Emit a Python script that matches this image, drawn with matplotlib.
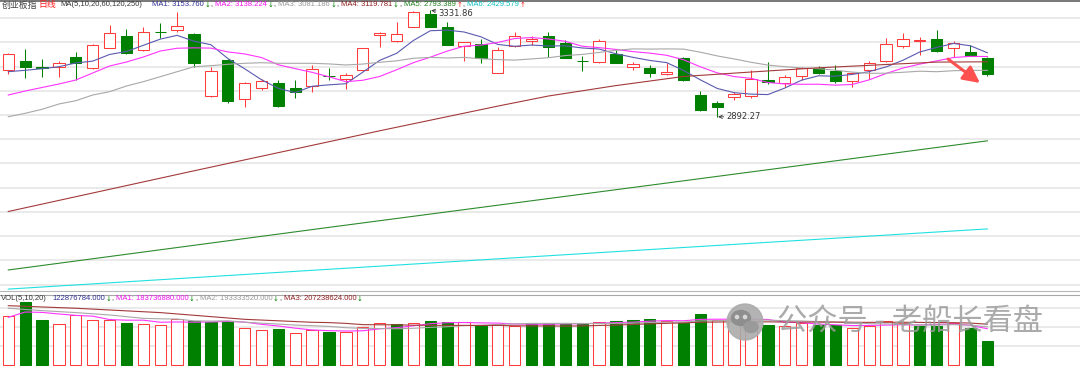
import matplotlib
matplotlib.use('Agg')
import matplotlib.pyplot as plt
import numpy as np
import pandas as pd
from matplotlib.patches import Rectangle, Circle, Ellipse

# ---------------- data ----------------
opens = [3085.9, 3123.1, 3099.5, 3099.5, 3140.8, 3092.9, 3175.5, 3226.3, 3168.5, 3244.9,
         3251.1, 3234.6, 2978.5, 3127.2, 2964.9, 3010.3, 3031.0, 3010.3, 3019.8, 3061.9,
         3050.0, 3085.9, 3230.4, 3206.9, 3264.7, 3317.2, 3262.3, 3186.3, 3193.3, 3074.7,
         3186.3, 3204.4, 3226.3, 3198.6, 3125.1, 3120.2, 3150.7, 3099.5, 3092.9, 3068.1,
         3134.2, 2982.6, 2948.4, 2973.2, 2979.8, 3044.6, 3031.0, 3061.1, 3095.4, 3081.8,
         3040.5, 3085.9, 3123.1, 3186.3, 3204.4, 3212.7, 3175.5, 3161.5, 3134.2]
highs = [3157.4, 3171.4, 3130.1, 3123.1, 3161.5, 3193.3, 3271.7, 3254.0, 3262.3, 3281.2,
         3326.7, 3239.9, 3099.5, 3130.1, 3035.1, 3048.7, 3044.6, 3044.6, 3106.5, 3092.9,
         3072.3, 3178.8, 3244.9, 3285.4, 3328.7, 3331.86, 3285.4, 3202.8, 3212.7, 3182.1,
         3241.6, 3226.3, 3241.6, 3209.8, 3143.7, 3213.9, 3168.5, 3120.2, 3106.5, 3116.0,
         3138.4, 3000.4, 2959.1, 2996.3, 3085.9, 3117.7, 3065.2, 3099.5, 3102.4, 3106.5,
         3078.9, 3123.1, 3219.3, 3239.9, 3223.4, 3251.1, 3206.9, 3189.1, 3140.8]
lows = [3069.4, 3051.6, 3055.8, 3055.8, 3044.6, 3088.8, 3175.5, 3152.0, 3164.4, 3216.8,
        3244.1, 3099.5, 2974.4, 2948.4, 2931.9, 3003.3, 2935.1, 2971.5, 2996.3, 3044.6,
        3006.2, 3083.0, 3182.1, 3203.6, 3262.3, 3262.3, 3187.1, 3123.1, 3113.6, 3072.3,
        3182.1, 3189.1, 3140.8, 3134.2, 3083.0, 3113.6, 3113.6, 3085.9, 3055.8, 3065.2,
        3041.7, 2918.6, 2892.27, 2962.0, 2969.0, 3028.1, 3014.5, 3044.6, 3069.4, 3033.4,
        3016.9, 3048.7, 3121.0, 3175.5, 3147.8, 3161.5, 3138.4, 3141.7, 3061.1]
closes = [3152.0, 3099.5, 3094.2, 3113.6, 3116.0, 3189.1, 3237.5, 3154.9, 3241.6, 3243.7,
          3267.6, 3116.0, 3083.0, 2957.9, 3031.0, 3040.5, 2937.2, 2996.3, 3088.8, 3060.3,
          3064.0, 3175.5, 3239.9, 3233.3, 3326.7, 3264.7, 3189.1, 3200.3, 3134.2, 3168.5,
          3227.6, 3213.9, 3182.1, 3136.7, 3123.9, 3205.7, 3116.0, 3109.4, 3072.3, 3078.9,
          3044.6, 2920.7, 2931.9, 2985.5, 3048.7, 3035.1, 3055.8, 3095.4, 3074.7, 3040.5,
          3072.3, 3113.6, 3192.0, 3212.7, 3211.5, 3165.6, 3196.2, 3143.7, 3068.1]
vol_million = [247.2, 316.2, 229.6, 207.4, 254.0, 228.1, 229.6, 214.1, 207.4, 202.1,
               234.8, 224.5, 219.2, 221.3, 185.0, 177.8, 183.0, 164.3, 176.2, 167.4,
               167.4, 190.2, 212.5, 207.4, 212.5, 221.3, 216.2, 216.2, 198.5, 207.4,
               198.5, 210.9, 214.1, 208.9, 208.9, 216.2, 222.9, 226.5, 234.8, 222.9,
               210.9, 259.2, 229.6, 236.9, 221.3, 203.7, 195.4, 212.5, 202.1, 202.1,
               185.0, 198.5, 221.3, 210.9, 195.4, 198.5, 212.5, 186.7, 122.876784]

# moving-average values visible before the window is full
ma5_head = [3078.9, 3084.7, 3091.3, 3099.5]
ma10_head = [2982.6, 2999.2, 3013.6, 3028.1, 3044.6, 3073.5, 3102.4, 3118.9, 3139.6]
ma20_head = [2893.0, 2907.1, 2923.6, 2945.5, 2959.1, 2982.6, 2996.3, 3019.8, 3037.6, 3058.2,
             3078.9, 3099.5, 3103.7, 3109.4, 3113.6, 3116.0, 3113.6, 3113.6, 3113.6]
ma60_idx = [1, 12, 23, 30, 33, 37, 41, 45, 49, 53, 56, 59]
ma60_val = [2501.5, 2669.6, 2834.8, 2936.8, 2978.5, 3021.5, 3059.1, 3077.6, 3095.0, 3108.6, 3118.5, 3119.781]
ma120_idx = [1, 20, 40, 59]
ma120_val = [2260.0, 2436.0, 2619.0, 2793.389]
ma250_idx = [1, 30, 59]
ma250_val = [2181.0, 2306.0, 2429.579]

vma5_head = [241.0, 268.0, 266.0, 258.0]
vma10_head_idx = [1, 3, 5, 7, 9]
vma10_head_val = [287.0, 275.0, 265.0, 253.0, 236.0]
vma20_head_idx = [1, 5, 10, 15, 19]
vma20_head_val = [300.0, 287.0, 265.0, 231.0, 216.0]

price_grid = [2200, 2300, 2400, 2500, 2600, 2700, 2800, 2900, 3000, 3100, 3200, 3300]
vol_grid_million = [96, 192, 288]
high_mark = 3331.86
low_mark = 2892.27

main_title = "创业板指"
period_label = "日线"
ma_params = "MA(5,10,20,60,120,250)"
ma_labels = ["MA1: 3153.760", "MA2: 3138.224", "MA3: 3081.186",
             "MA4: 3119.781", "MA5: 2793.389", "MA6: 2429.579"]
ma_dirs = ["↓", "↓", "↓", "↓", "↑", "↑"]
vol_params = "VOL(5,10,20)"
vol_labels = ["122876784.000", "MA1: 183736880.000", "MA2: 193333520.000", "MA3: 207238624.000"]
vol_dirs = ["↓", "↓", "↓", "↓"]
watermark = "公众号 - 老船长看盘"

# ---------------- style ----------------
RED = '#FF3B3B'
GREEN = '#008000'
C_MA = ['#5A5AB0', '#FF33FF', '#A8A8A8', '#A33A3A', '#2E8B2E', '#22E0E0']
C_TXT = ['#2E2E90', '#F010F0', '#989898', '#8E1E1E', '#1E7E1E', '#10C0C0']
GRID = '#E4E4E4'

W, H = 1080, 367
fig = plt.figure(figsize=(W / 100, H / 100), dpi=100)
fig.patch.set_facecolor('white')


def px_axes(y_top, y_bot):
    return fig.add_axes([0, 1 - y_bot / H, 1, (y_bot - y_top) / H])


ax = px_axes(0, 291)
axv = px_axes(295, 367)

N = len(closes)
idx = np.arange(1, N + 1)
x_left = 1 - 8.3 / 16.88
x_right = 1 + (W - 8.3) / 16.88
bw = 0.67
lw_px = 0.75

for a in (ax, axv):
    a.set_xlim(x_left, x_right)
    for s in a.spines.values():
        s.set_visible(False)
    a.set_xticks([])
    a.set_yticks([])
    a.set_facecolor('white')

ax.set_ylim(3375 - 4.13 * 291, 3375)
axv.set_ylim(-2 * 5.057, 70 * 5.057)

for g in price_grid:
    ax.axhline(g, color=GRID, lw=1.1, zorder=0)
for g in vol_grid_million:
    axv.axhline(g, color=GRID, lw=1.1, zorder=0)

# candles
for k, o, h, l, c in zip(idx, opens, highs, lows, closes):
    if c >= o:
        ax.add_patch(Rectangle((k - bw / 2, o), bw, c - o, facecolor='white',
                               edgecolor=RED, lw=lw_px, zorder=3))
        ax.vlines(k, c, h, color=RED, lw=lw_px, zorder=3)
        ax.vlines(k, l, o, color=RED, lw=lw_px, zorder=3)
    else:
        ax.vlines(k, l, h, color=GREEN, lw=lw_px, zorder=2)
        ax.add_patch(Rectangle((k - bw / 2, c), bw, o - c, facecolor=GREEN,
                               edgecolor=GREEN, lw=lw_px, zorder=3))


def ma_line(values, n, head_idx, head_val):
    s = pd.Series(values).rolling(n).mean().to_numpy()
    xs = list(head_idx) + list(range(n, len(values) + 1))
    ys = list(head_val) + list(s[n - 1:])
    return xs, ys


lines = [ma_line(closes, 5, [1, 2, 3, 4], ma5_head),
         ma_line(closes, 10, list(range(1, 10)), ma10_head),
         ma_line(closes, 20, list(range(1, 20)), ma20_head),
         (ma60_idx, ma60_val), (ma120_idx, ma120_val), (ma250_idx, ma250_val)]
for (xs, ys), col in zip(lines, C_MA):
    ax.plot(xs, ys, color=col, lw=0.8, zorder=4)

# high / low marks
hi_k = idx[int(np.argmax(highs))]
lo_k = idx[int(np.argmin(lows))]
ax.annotate(f"{high_mark:.2f}", xy=(hi_k + 0.05, high_mark), xytext=(hi_k + 0.5, high_mark - 12),
            fontsize=6, color='#333333', va='center', ha='left', family=['DejaVu Sans'],
            arrowprops=dict(arrowstyle='->', color='#333333', lw=0.6, shrinkA=0, shrinkB=0), zorder=6)
ax.annotate(f"{low_mark:.2f}", xy=(lo_k + 0.05, low_mark), xytext=(lo_k + 0.55, low_mark + 2),
            fontsize=6, color='#333333', va='center', ha='left', family=['DejaVu Sans'],
            arrowprops=dict(arrowstyle='->', color='#333333', lw=0.6, shrinkA=0, shrinkB=0), zorder=6)

# red arrow
ax.annotate('', xy=(0.9074, 0.7148), xytext=(0.8778, 0.797), xycoords='axes fraction',
            arrowprops=dict(arrowstyle='-|>,head_length=1.0,head_width=0.5', color='#FF5050',
                            lw=2.2, mutation_scale=10, shrinkA=0, shrinkB=0), zorder=7)

# volume
prev = [opens[0]] + closes[:-1]
for k, v, c, p in zip(idx, vol_million, closes, prev):
    if c >= p:
        axv.add_patch(Rectangle((k - bw / 2, 0), bw, v, facecolor='white',
                                edgecolor=RED, lw=lw_px, zorder=3))
    else:
        axv.add_patch(Rectangle((k - bw / 2, 0), bw, v, facecolor=GREEN,
                                edgecolor=GREEN, lw=lw_px, zorder=3))

vlines_ = [ma_line(vol_million, 5, [1, 2, 3, 4], vma5_head),
           ma_line(vol_million, 10, vma10_head_idx, vma10_head_val),
           ma_line(vol_million, 20, vma20_head_idx, vma20_head_val)]
for (xs, ys), col in zip(vlines_, ['#FF33FF', '#A8A8A8', '#A33A3A']):
    axv.plot(xs, ys, color=col, lw=0.8, zorder=4)

# ---------------- overlay (pixel coordinates) ----------------
ov = fig.add_axes([0, 0, 1, 1], zorder=10)
ov.set_xlim(0, W)
ov.set_ylim(H, 0)
ov.axis('off')
ov.patch.set_alpha(0)

ov.axhline(0.6, color='#606060', lw=1.2)
ov.axhline(291, color='#B8B8B8', lw=0.8)
ov.axhline(295, color='#A8A8A8', lw=0.8)

LAT = ['Liberation Sans', 'DejaVu Sans']
CJK = ['Noto Sans CJK SC', 'DejaVu Sans']
ARW = ['DejaVu Sans']
fs = 5.5
renderer = fig.canvas.get_renderer()


def t(x, y, s, col, fam=LAT, size=fs):
    tx = ov.text(x, y, s, color=col, fontsize=size, family=fam, va='center', ha='left')
    bb = tx.get_window_extent(renderer)
    return x + bb.width  # right end in pixels


def seg_row(y, starts, labels, dirs, cols, x_min):
    for i, (x0, lab, d, col) in enumerate(zip(starts, labels, dirs, cols)):
        x0 = max(x0, x_min + 2.5)
        xe = t(x0, y, lab, col)
        xe = t(xe + 0.4, y, d, GREEN if d == "↓" else '#FF2020', ARW, 5.0)
        if i < len(labels) - 1:
            xe = t(xe + 0.4, y, ",", '#333333')
        x_min = xe


yh = 5.0
t(2, yh, main_title, '#444444', CJK, 6.4)
t(38, yh, period_label, '#FF2020', CJK, 6.4)
xe = t(60, yh, ma_params, '#333333')
seg_row(yh, [152, 214, 276, 340, 402, 466], ma_labels, ma_dirs, C_TXT, xe)

yv = 298.5
xe = t(1, yv, vol_params, '#333333')
seg_row(yv, [52, 115, 197, 272], vol_labels, vol_dirs,
        ['#2E2E90', '#F010F0', '#989898', '#8E1E1E'], xe)

# watermark
ov.add_patch(Circle((745, 322), 18, color='#ABABAB', alpha=0.9, zorder=11))
ov.add_patch(Ellipse((741, 318), 19, 15, color='#8E8E8E', zorder=12))
ov.add_patch(Ellipse((751, 327), 14, 11, color='#9A9A9A', zorder=12))
ov.add_patch(Circle((737, 317), 1.6, color='#D8D8D8', zorder=13))
ov.add_patch(Circle((745, 317), 1.6, color='#D8D8D8', zorder=13))
ov.text(777, 322, watermark, color='#9C9C9C', alpha=0.85, fontsize=21.8, family=CJK,
        va='center', ha='left', zorder=12)

fig.savefig('out.png', dpi=100, facecolor='white')
